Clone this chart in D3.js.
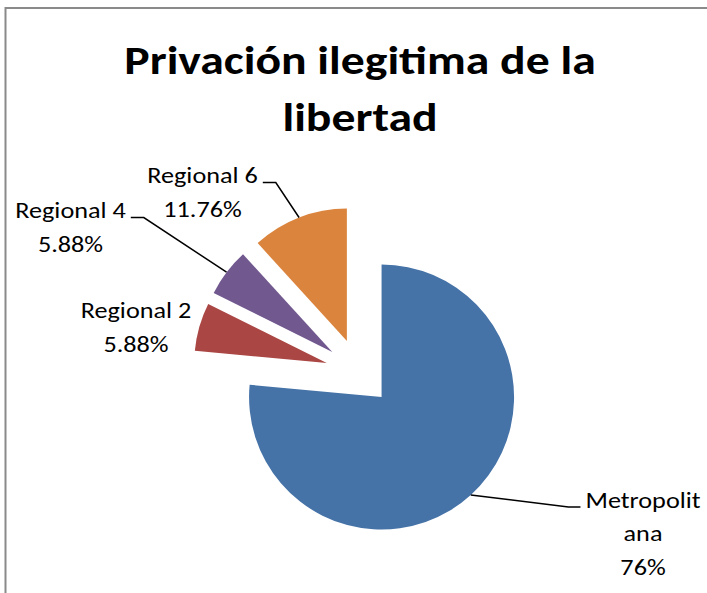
<!DOCTYPE html>
<html>
<head>
<meta charset="utf-8">
<script src="https://cdn.jsdelivr.net/npm/d3@7"></script>
<style>
  html, body { margin: 0; padding: 0; background: #fff; }
  svg { display: block; }
</style>
</head>
<body>
<svg id="chart" width="707" height="593"></svg>
<script>
// ---- data ----
const categories = ["Metropolitana", "Regional 2", "Regional 4", "Regional 6"];
const values = [76.47, 5.88, 5.88, 11.76];
const categoryLines = [["Metropolit", "ana"], ["Regional 2"], ["Regional 4"], ["Regional 6"]];
const percentLabels = ["76%", "5.88%", "5.88%", "11.76%"];
const colors = ["#4572A7", "#AA4643", "#71588F", "#DB843D"];
const titleLines = ["Privación ilegitima de la", "libertad"];

// ---- layout ----
const W = 707, H = 593;
const cx = 359, cy = 372.3, R = 132.5, explode = 33.5;
const fontFamily = "Carlito, Calibri, Lato, 'Open Sans', sans-serif";
const titleScaleX = 1.163, labelScaleX = 1.22;
const labelLayout = {
  "Metropolitana": { x: 643, y: 508, leader: true, side: "right" },
  "Regional 2":    { x: 136, y: 318.5, leader: false, side: "left" },
  "Regional 4":    { x: 70.5, y: 218.5, leader: true, side: "left" },
  "Regional 6":    { x: 202.5, y: 183.5, leader: true, side: "left" }
};
const lineStep = 33.3;

const svg = d3.select("#chart");

// frame
svg.append("rect")
  .attr("x", 5.5).attr("y", 8)
  .attr("width", W + 20).attr("height", H + 20)
  .attr("fill", "#fff")
  .attr("stroke", "#8a8a8a")
  .attr("stroke-width", 2);

// title
const titleX = 360;
svg.append("text")
  .attr("text-anchor", "middle")
  .attr("font-family", fontFamily)
  .attr("font-weight", "bold")
  .attr("font-size", 41)
  .attr("fill", "#000")
  .attr("transform", `translate(${titleX},0) scale(${titleScaleX},1)`)
  .selectAll("tspan")
  .data(titleLines)
  .join("tspan")
  .attr("x", 0)
  .attr("y", (d, i) => 74 + i * 57.5)
  .text(d => d);

// pie
const pie = d3.pie().sort(null).value(d => d).startAngle(0).endAngle(2 * Math.PI);
const arcs = pie(values);
const arc = d3.arc().innerRadius(0).outerRadius(R);

function dir(a) {
  const m = (a.startAngle + a.endAngle) / 2;
  return [Math.sin(m), -Math.cos(m)];
}

const g = svg.append("g").attr("transform", `translate(${cx},${cy})`);
g.selectAll("path.slice")
  .data(arcs)
  .join("path")
  .attr("class", "slice")
  .attr("transform", d => {
    const [dx, dy] = dir(d);
    return `translate(${dx * explode},${dy * explode})`;
  })
  .attr("d", arc)
  .attr("fill", (d, i) => colors[i]);

// labels
const labelG = svg.append("g");
arcs.forEach((a, i) => {
  const cat = categories[i];
  const L = labelLayout[cat];
  const lines = categoryLines[i].concat([percentLabels[i]]);
  const t = labelG.append("text")
    .attr("text-anchor", "middle")
    .attr("font-family", fontFamily)
    .attr("font-size", 21.5)
    .attr("fill", "#000")
    .attr("transform", `translate(${L.x},0) scale(${labelScaleX},1)`);
  t.selectAll("tspan")
    .data(lines)
    .join("tspan")
    .attr("x", 0)
    .attr("y", (d, j) => L.y + j * lineStep)
    .text(d => d);

  if (L.leader) {
    const firstW = t.select("tspan").node().getComputedTextLength() * labelScaleX;
    const [dx, dy] = dir(a);
    const px = cx + dx * (explode + R);
    const py = cy + dy * (explode + R);
    const ly = L.y - 1;
    let x1, x2;
    if (L.side === "left") {
      x1 = L.x + firstW / 2 + 5;
      x2 = x1 + 13;
    } else {
      x1 = L.x - firstW / 2 - 5;
      x2 = x1 - 12;
    }
    labelG.append("path")
      .attr("d", `M${x1},${ly}L${x2},${ly}L${px},${py}`)
      .attr("fill", "none")
      .attr("stroke", "#000")
      .attr("stroke-width", 1.5);
  }
});
</script>
</body>
</html>
